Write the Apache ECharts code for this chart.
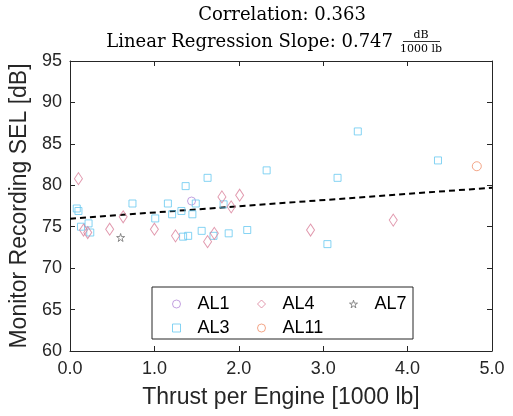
<!DOCTYPE html>
<html>
<head>
<meta charset="utf-8">
<script src="https://cdn.jsdelivr.net/npm/echarts@6/dist/echarts.min.js"></script>
<style>
  html, body { margin: 0; padding: 0; background: #fff; }
  #chart { width: 513px; height: 416px; }
</style>
</head>
<body>
<div id="chart"></div>
<script>
// thrust [1000 lb] / SEL [dB] per array
const al1 = [[1.44, 78.1]];
const al3 = [
  [0.08, 77.2], [0.10, 76.9], [0.13, 75.0], [0.22, 75.4], [0.24, 74.3],
  [0.74, 77.8], [1.01, 76.0], [1.16, 77.8], [1.21, 76.5], [1.32, 76.9],
  [1.37, 79.9], [1.34, 73.8], [1.40, 73.9], [1.49, 77.8], [1.45, 76.5],
  [1.63, 80.9], [1.56, 74.5], [1.70, 73.9], [1.82, 77.7], [1.88, 74.2],
  [2.10, 74.6], [2.33, 81.8], [3.05, 72.9], [3.17, 80.9], [3.41, 86.5],
  [4.36, 83.0]
];
const al4 = [
  [0.10, 80.8], [0.16, 74.6], [0.21, 74.3], [0.47, 74.7], [0.63, 76.2],
  [1.00, 74.7], [1.25, 73.9], [1.63, 73.2], [1.71, 74.2], [1.80, 78.6],
  [1.91, 77.4], [2.01, 78.8], [2.85, 74.6], [3.83, 75.8]
];
const al11 = [[4.82, 82.3]];
const al7 = [[0.60, 73.7]];
// regression line end points
const fitLine = [[0, 75.97], [5, 79.71]];

const xTicks = [0, 5, 1];   // min, max, step
const yTicks = [60, 95, 5];

const axisCol = '#262626';
const sans = '"Liberation Sans", Arial, sans-serif';
const serif = '"DejaVu Serif", serif';
const star = 'path://M50,0 L61,35 L98,35 L68,57 L79,91 L50,70 L21,91 L32,57 L2,35 L39,35 Z';

// name, symbol, size, colour
const groups = {
  AL1:  ['circle', 8, '#b48ad8'],
  AL3:  ['rect', 7, '#66c8f0'],
  AL4:  ['diamond', [8, 12], '#d9809a'],
  AL11: ['circle', 9, '#f0906a'],
  AL7:  [star, 8, '#707070']
};

function hollow(name, data) {
  const g = groups[name];
  return {
    name: name, type: 'scatter', data: data,
    symbol: g[0], symbolSize: g[1],
    itemStyle: { color: 'rgba(0,0,0,0)', borderColor: g[2], borderWidth: 1 },
    emphasis: { disabled: true },
    z: 3
  };
}

function xAx(pos, show) {
  return {
    type: 'value', position: pos, min: xTicks[0], max: xTicks[1], interval: xTicks[2],
    axisLine: { show: true, onZero: false, lineStyle: { color: axisCol, width: 1 } },
    axisTick: { show: true, inside: true, length: 5, lineStyle: { color: axisCol } },
    axisLabel: { show: show, color: axisCol, fontFamily: sans, fontSize: 18, margin: 9,
      formatter: v => v.toFixed(1) },
    splitLine: { show: false },
    name: show ? 'Thrust per Engine [1000 lb]' : '',
    nameLocation: 'middle', nameGap: 35,
    nameTextStyle: { color: axisCol, fontFamily: sans, fontSize: 23 }
  };
}
function yAx(pos, show) {
  return {
    type: 'value', position: pos, min: yTicks[0], max: yTicks[1], interval: yTicks[2],
    axisLine: { show: true, onZero: false, lineStyle: { color: axisCol, width: 1 } },
    axisTick: { show: true, inside: true, length: 5, lineStyle: { color: axisCol } },
    axisLabel: { show: show, color: axisCol, fontFamily: sans, fontSize: 18, margin: 8 },
    splitLine: { show: false },
    name: show ? 'Monitor Recording SEL [dB]' : '',
    nameLocation: 'middle', nameGap: 39, nameRotate: 90,
    nameTextStyle: { color: axisCol, fontFamily: sans, fontSize: 23 }
  };
}

function legendCol(left, names) {
  return {
    data: names.map(n => ({
      name: n, icon: groups[n][0],
      itemStyle: { color: 'rgba(0,0,0,0)', borderColor: groups[n][2], borderWidth: 1 }
    })),
    orient: 'vertical', left: left, top: 295, padding: 0,
    itemWidth: 8, itemHeight: 8, itemGap: 6,
    selectedMode: false,
    textStyle: { color: '#000', fontFamily: sans, fontSize: 18, lineHeight: 17,
      padding: [0, 0, 0, 12] },
    z: 5
  };
}

const chart = echarts.init(document.getElementById('chart'));
chart.setOption({
  animation: false,
  backgroundColor: '#fff',
  grid: { left: 69, right: 21, top: 61, bottom: 65, containLabel: false },
  xAxis: [xAx('bottom', true), xAx('top', false)],
  yAxis: [yAx('left', true), yAx('right', false)],
  legend: [
    legendCol(172, ['AL1', 'AL3']),
    legendCol(257, ['AL4', 'AL11']),
    legendCol(349, ['AL7'])
  ],
  graphic: [
    { type: 'rect', shape: { x: 152, y: 287, width: 261, height: 52 },
      style: { fill: '#fff', stroke: axisCol, lineWidth: 1 }, z: 4 },
    { type: 'text', x: 282, y: 15,
      style: { text: 'Correlation: 0.363', font: '18px ' + serif, fill: '#000',
        textAlign: 'center', textVerticalAlign: 'middle' } },
    { type: 'text', x: 393, y: 42,
      style: { text: 'Linear Regression Slope: 0.747', font: '18px ' + serif, fill: '#000',
        textAlign: 'right', textVerticalAlign: 'middle' } },
    { type: 'text', x: 421, y: 35,
      style: { text: 'dB', font: '11px ' + serif, fill: '#000',
        textAlign: 'center', textVerticalAlign: 'middle' } },
    { type: 'line', shape: { x1: 403, y1: 41.5, x2: 440, y2: 41.5 },
      style: { stroke: '#000', lineWidth: 0.8 } },
    { type: 'text', x: 421, y: 49,
      style: { text: '1000 lb', font: '11px ' + serif, fill: '#000',
        textAlign: 'center', textVerticalAlign: 'middle' } }
  ],
  series: [
    hollow('AL1', al1),
    hollow('AL3', al3),
    hollow('AL4', al4),
    hollow('AL11', al11),
    hollow('AL7', al7),
    {
      name: 'fit', type: 'line', data: fitLine, showSymbol: false,
      lineStyle: { color: '#000', width: 2, type: [6, 4] },
      emphasis: { disabled: true }, z: 2
    }
  ]
});
</script>
</body>
</html>
